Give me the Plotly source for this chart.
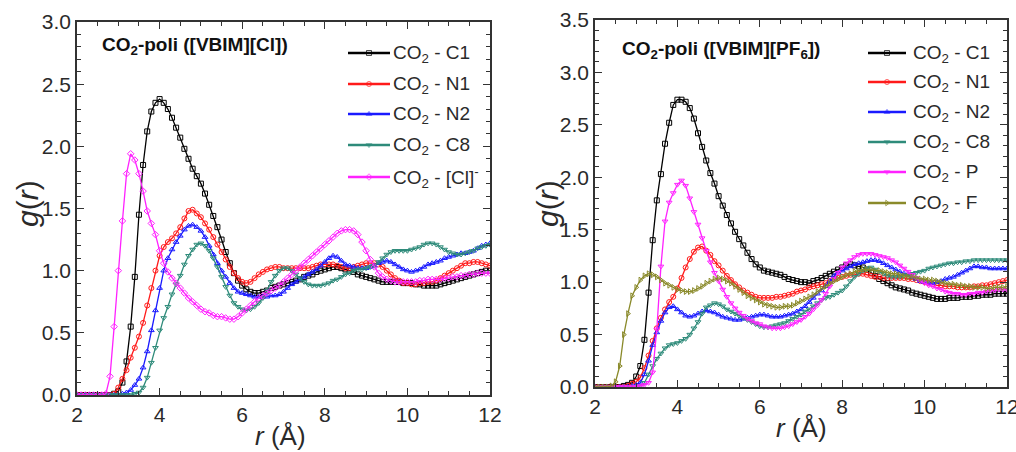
import plotly.graph_objects as go

# radial grid, 2.0 .. 12.0 Å in 0.1 Å steps
r = [round(2.0 + 0.1 * i, 1) for i in range(101)]

# ---- CO2-poli([VBIM][Cl]) ----
cl_c1 = [0, 0, 0, 0, 0, 0, 0, 0, 0, 0.01,
         0.03, 0.10, 0.27, 0.55, 0.95, 1.45, 1.85, 2.12, 2.28, 2.35,
         2.38, 2.35, 2.30, 2.23, 2.15, 2.07, 1.98, 1.90, 1.82, 1.76,
         1.70, 1.62, 1.53, 1.44, 1.35, 1.25, 1.15, 1.06, 0.98, 0.92,
         0.88, 0.85, 0.83, 0.82, 0.82, 0.83, 0.84, 0.86, 0.87, 0.88,
         0.89, 0.90, 0.91, 0.92, 0.93, 0.95, 0.96, 0.97, 0.99, 1.00,
         1.01, 1.02, 1.03, 1.03, 1.02, 1.01, 1.00, 0.99, 0.97, 0.96,
         0.95, 0.94, 0.93, 0.92, 0.91, 0.91, 0.91, 0.91, 0.91, 0.90,
         0.90, 0.90, 0.89, 0.89, 0.88, 0.88, 0.88, 0.88, 0.89, 0.90,
         0.91, 0.92, 0.93, 0.94, 0.95, 0.96, 0.97, 0.98, 0.99, 1.00,
         1.00]
cl_n1 = [0, 0, 0, 0, 0, 0, 0, 0, 0, 0.01,
         0.06, 0.13, 0.20, 0.30, 0.38, 0.47, 0.58, 0.72, 0.86, 1.00,
         1.12, 1.19, 1.23, 1.26, 1.30, 1.35, 1.42, 1.48, 1.49, 1.46,
         1.43, 1.38, 1.33, 1.27, 1.21, 1.15, 1.09, 1.03, 0.98, 0.94,
         0.91, 0.90, 0.91, 0.94, 0.97, 0.99, 1.01, 1.02, 1.03, 1.03,
         1.02, 1.02, 1.02, 1.02, 1.02, 1.02, 1.02, 1.03, 1.04, 1.05,
         1.05, 1.05, 1.05, 1.04, 1.03, 1.02, 1.02, 1.03, 1.04, 1.05,
         1.06, 1.06, 1.06, 1.05, 1.03, 1.00, 0.97, 0.94, 0.92, 0.90,
         0.90, 0.89, 0.89, 0.90, 0.90, 0.91, 0.91, 0.92, 0.94, 0.96,
         0.98, 1.00, 1.02, 1.04, 1.06, 1.06, 1.07, 1.07, 1.06, 1.05,
         1.04]
cl_n2 = [0, 0, 0, 0, 0, 0, 0, 0, 0, 0,
         0.00, 0.01, 0.02, 0.04, 0.08, 0.13, 0.22, 0.35, 0.52, 0.68,
         0.86, 1.00, 1.10, 1.17, 1.23, 1.28, 1.33, 1.36, 1.37, 1.35,
         1.32, 1.27, 1.20, 1.13, 1.06, 1.00, 0.95, 0.90, 0.86, 0.83,
         0.82, 0.81, 0.80, 0.79, 0.79, 0.79, 0.79, 0.80, 0.80, 0.81,
         0.83, 0.86, 0.89, 0.91, 0.93, 0.95, 0.97, 0.99, 1.01, 1.04,
         1.07, 1.10, 1.12, 1.11, 1.08, 1.05, 1.04, 1.03, 1.02, 1.02,
         1.02, 1.03, 1.04, 1.06, 1.07, 1.08, 1.07, 1.05, 1.03, 1.01,
         1.00, 0.99, 1.00, 1.01, 1.03, 1.05, 1.06, 1.07, 1.08, 1.10,
         1.11, 1.12, 1.13, 1.14, 1.14, 1.15, 1.16, 1.18, 1.20, 1.21,
         1.22]
cl_c8 = [0, 0, 0, 0, 0, 0, 0, 0, 0, 0,
         0, 0, 0, 0, 0.01, 0.02, 0.06, 0.14, 0.26, 0.38,
         0.52, 0.62, 0.71, 0.81, 0.89, 0.96, 1.05, 1.12, 1.17, 1.21,
         1.22, 1.20, 1.16, 1.10, 1.03, 0.95, 0.87, 0.80, 0.74, 0.71,
         0.69, 0.68, 0.69, 0.71, 0.74, 0.78, 0.84, 0.91, 0.96, 1.00,
         1.02, 1.02, 1.00, 0.97, 0.94, 0.91, 0.89, 0.88, 0.88, 0.88,
         0.89, 0.90, 0.92, 0.93, 0.95, 0.97, 0.98, 1.00, 1.01, 1.01,
         1.02, 1.03, 1.04, 1.07, 1.10, 1.13, 1.15, 1.16, 1.16, 1.16,
         1.16, 1.17, 1.18, 1.19, 1.21, 1.22, 1.22, 1.21, 1.19, 1.17,
         1.15, 1.14, 1.13, 1.13, 1.14, 1.15, 1.16, 1.18, 1.19, 1.20,
         1.21]
cl_cl = [0, 0, 0, 0, 0, 0, 0, 0.01, 0.15, 0.55,
         1.00, 1.40, 1.78, 1.94, 1.89, 1.78, 1.64, 1.48, 1.38, 1.29,
         1.16, 1.06, 0.99, 0.94, 0.90, 0.86, 0.82, 0.78, 0.75, 0.72,
         0.69, 0.67, 0.66, 0.64, 0.63, 0.63, 0.62, 0.61, 0.61, 0.63,
         0.66, 0.69, 0.72, 0.75, 0.78, 0.80, 0.82, 0.84, 0.86, 0.88,
         0.91, 0.94, 0.97, 1.00, 1.03, 1.06, 1.09, 1.12, 1.15, 1.18,
         1.21, 1.24, 1.27, 1.30, 1.32, 1.33, 1.33, 1.32, 1.29, 1.23,
         1.16, 1.09, 1.03, 0.98, 0.95, 0.93, 0.92, 0.91, 0.91, 0.91,
         0.91, 0.91, 0.91, 0.92, 0.92, 0.93, 0.93, 0.93, 0.93, 0.94,
         0.94, 0.95, 0.95, 0.96, 0.96, 0.97, 0.97, 0.98, 0.98, 0.98,
         0.98]

# ---- CO2-poli([VBIM][PF6]) ----
pf_c1 = [0, 0, 0, 0, 0, 0, 0, 0.01, 0.02, 0.04,
         0.10, 0.20, 0.45, 0.90, 1.40, 1.78, 2.03, 2.32, 2.52, 2.69,
         2.74, 2.74, 2.72, 2.66, 2.56, 2.42, 2.29, 2.16, 2.04, 1.94,
         1.82, 1.73, 1.64, 1.56, 1.48, 1.41, 1.35, 1.28, 1.22, 1.17,
         1.14, 1.11, 1.10, 1.09, 1.08, 1.07, 1.05, 1.03, 1.02, 1.01,
         1.00, 1.00, 0.99, 1.01, 1.02, 1.04, 1.06, 1.08, 1.10, 1.12,
         1.14, 1.16, 1.17, 1.16, 1.15, 1.14, 1.12, 1.09, 1.06, 1.03,
         1.01, 0.99, 0.97, 0.95, 0.94, 0.93, 0.92, 0.90, 0.89, 0.88,
         0.87, 0.86, 0.85, 0.84, 0.84, 0.84, 0.85, 0.85, 0.85, 0.86,
         0.86, 0.86, 0.87, 0.87, 0.88, 0.88, 0.88, 0.89, 0.89, 0.89,
         0.89]
pf_n1 = [0, 0, 0, 0, 0, 0, 0, 0, 0.01, 0.03,
         0.05, 0.09, 0.18, 0.30, 0.44, 0.56, 0.66, 0.74, 0.81, 0.86,
         0.94, 1.04, 1.14, 1.22, 1.29, 1.33, 1.34, 1.30, 1.26, 1.20,
         1.16, 1.11, 1.06, 1.02, 0.98, 0.95, 0.92, 0.90, 0.88, 0.86,
         0.85, 0.85, 0.85, 0.85, 0.86, 0.86, 0.87, 0.88, 0.89, 0.91,
         0.92, 0.93, 0.95, 0.96, 0.97, 0.98, 0.99, 1.01, 1.03, 1.04,
         1.05, 1.06, 1.07, 1.07, 1.08, 1.08, 1.07, 1.06, 1.05, 1.05,
         1.04, 1.04, 1.04, 1.04, 1.04, 1.04, 1.03, 1.03, 1.02, 1.01,
         1.00, 0.99, 0.98, 0.97, 0.97, 0.96, 0.96, 0.96, 0.95, 0.95,
         0.95, 0.95, 0.96, 0.96, 0.97, 0.97, 0.98, 0.99, 1.00, 1.01,
         1.02]
pf_n2 = [0, 0, 0, 0, 0, 0, 0, 0, 0, 0.01,
         0.02, 0.04, 0.12, 0.25, 0.40, 0.52, 0.63, 0.71, 0.76, 0.77,
         0.74, 0.71, 0.68, 0.67, 0.68, 0.70, 0.72, 0.73, 0.72, 0.71,
         0.69, 0.67, 0.66, 0.65, 0.64, 0.64, 0.65, 0.66, 0.67, 0.68,
         0.69, 0.69, 0.68, 0.67, 0.67, 0.67, 0.68, 0.69, 0.70, 0.72,
         0.74, 0.77, 0.81, 0.85, 0.89, 0.92, 0.96, 1.01, 1.06, 1.09,
         1.11, 1.13, 1.15, 1.17, 1.18, 1.19, 1.20, 1.21, 1.21, 1.20,
         1.18, 1.16, 1.14, 1.12, 1.10, 1.08, 1.07, 1.05, 1.03, 1.01,
         1.00, 0.99, 0.99, 1.00, 1.01, 1.03, 1.04, 1.05, 1.07, 1.09,
         1.11, 1.13, 1.15, 1.15, 1.14, 1.14, 1.13, 1.13, 1.13, 1.13,
         1.13]
pf_c8 = [0, 0, 0, 0, 0, 0, 0, 0, 0, 0,
         0, 0.01, 0.04, 0.12, 0.20, 0.27, 0.32, 0.37, 0.40, 0.41,
         0.42, 0.44, 0.46, 0.50, 0.56, 0.62, 0.70, 0.76, 0.78, 0.80,
         0.79, 0.77, 0.74, 0.72, 0.70, 0.68, 0.66, 0.64, 0.62, 0.60,
         0.58, 0.57, 0.57, 0.58, 0.59, 0.60, 0.61, 0.63, 0.65, 0.67,
         0.69, 0.72, 0.74, 0.77, 0.80, 0.83, 0.85, 0.86, 0.88, 0.90,
         0.92, 0.96, 1.01, 1.05, 1.08, 1.11, 1.13, 1.14, 1.12, 1.10,
         1.08, 1.06, 1.05, 1.05, 1.05, 1.06, 1.07, 1.08, 1.09, 1.10,
         1.11, 1.13, 1.14, 1.15, 1.16, 1.17, 1.18, 1.18, 1.19, 1.19,
         1.20, 1.20, 1.21, 1.21, 1.21, 1.21, 1.21, 1.21, 1.21, 1.21,
         1.21]
pf_p = [0, 0, 0, 0, 0, 0, 0, 0, 0, 0,
        0.00, 0.01, 0.02, 0.04, 0.14, 0.55, 1.15, 1.58, 1.76, 1.85,
        1.93, 1.97, 1.92, 1.80, 1.67, 1.55, 1.42, 1.30, 1.19, 1.09,
        1.01, 0.93, 0.86, 0.80, 0.75, 0.71, 0.68, 0.65, 0.63, 0.61,
        0.60, 0.58, 0.57, 0.56, 0.56, 0.56, 0.57, 0.58, 0.60, 0.62,
        0.64, 0.67, 0.70, 0.74, 0.78, 0.83, 0.89, 0.96, 1.03, 1.09,
        1.14, 1.18, 1.21, 1.24, 1.26, 1.27, 1.27, 1.27, 1.26, 1.25,
        1.24, 1.23, 1.21, 1.19, 1.16, 1.13, 1.10, 1.07, 1.04, 1.01,
        0.99, 0.97, 0.96, 0.94, 0.93, 0.91, 0.90, 0.89, 0.89, 0.88,
        0.88, 0.89, 0.89, 0.90, 0.90, 0.91, 0.92, 0.92, 0.93, 0.93,
        0.93]
pf_f = [0, 0, 0, 0, 0.01, 0.05, 0.20, 0.50, 0.70, 0.87,
        0.95, 1.02, 1.06, 1.08, 1.07, 1.05, 1.02, 0.99, 0.97, 0.95,
        0.93, 0.92, 0.91, 0.91, 0.92, 0.94, 0.96, 0.99, 1.01, 1.03,
        1.04, 1.03, 1.01, 0.99, 0.96, 0.93, 0.90, 0.87, 0.85, 0.83,
        0.81, 0.79, 0.78, 0.77, 0.76, 0.76, 0.77, 0.77, 0.78, 0.80,
        0.82, 0.84, 0.86, 0.88, 0.91, 0.94, 0.96, 0.99, 1.01, 1.03,
        1.05, 1.07, 1.08, 1.10, 1.11, 1.12, 1.12, 1.12, 1.11, 1.11,
        1.10, 1.09, 1.08, 1.08, 1.07, 1.06, 1.05, 1.05, 1.04, 1.03,
        1.03, 1.02, 1.02, 1.01, 1.00, 0.99, 0.98, 0.98, 0.97, 0.97,
        0.96, 0.96, 0.95, 0.95, 0.95, 0.94, 0.94, 0.95, 0.95, 0.95,
        0.96]

left_names = ["CO<sub>2</sub> - C1", "CO<sub>2</sub> - N1", "CO<sub>2</sub> - N2",
              "CO<sub>2</sub> - C8", "CO<sub>2</sub> - [Cl]<sup>-</sup>"]
right_names = ["CO<sub>2</sub> - C1", "CO<sub>2</sub> - N1", "CO<sub>2</sub> - N2",
               "CO<sub>2</sub> - C8", "CO<sub>2</sub> - P", "CO<sub>2</sub> - F"]

left_series = [cl_c1, cl_n1, cl_n2, cl_c8, cl_cl]
right_series = [pf_c1, pf_n1, pf_n2, pf_c8, pf_p, pf_f]

colors = ["#000000", "#ff1a1a", "#1a1aff", "#2e8b7a", "#ff22ff", "#8a8a2a"]
symbols_left = ["square-open", "circle-open", "triangle-up-open",
                "triangle-down-open", "diamond-open"]
symbols_right = ["square-open", "circle-open", "triangle-up-open",
                 "triangle-down-open", "triangle-down-open", "triangle-right-open"]

FONT = "Arial, Liberation Sans, sans-serif"
TXT = "#2a2a2a"
W, H = 1016, 452


def px_x(p):
    return p / W


def px_y(p):
    return (H - p) / H


fig = go.Figure()

for name, ys, col, sym in zip(left_names, left_series, colors, symbols_left):
    fig.add_trace(go.Scatter(
        x=r, y=ys, name=name, mode="lines+markers",
        line=dict(color=col, width=1.3),
        marker=dict(symbol=sym, size=5, color=col, line=dict(width=1, color=col)),
        xaxis="x", yaxis="y", showlegend=False))

for name, ys, col, sym in zip(right_names, right_series, colors, symbols_right):
    fig.add_trace(go.Scatter(
        x=r, y=ys, name=name, mode="lines+markers",
        line=dict(color=col, width=1.3),
        marker=dict(symbol=sym, size=5, color=col, line=dict(width=1, color=col)),
        xaxis="x2", yaxis="y2", showlegend=False))

# legend keys: drawn on a hidden full-figure pixel axis
key_rows_left = [53, 84, 114, 145, 177]
key_rows_right = [53, 82, 112, 142, 172, 203]
ann = []
for names, rows, syms, (lx0, lx1, tx) in (
        (left_names, key_rows_left, symbols_left, (348, 390, 391)),
        (right_names, key_rows_right, symbols_right, (868, 906, 911))):
    for name, yk, col, sym in zip(names, rows, colors, syms):
        fig.add_trace(go.Scatter(
            x=[lx0, (lx0 + lx1) / 2, lx1], y=[yk, yk, yk], mode="lines+markers",
            line=dict(color=col, width=2.4),
            marker=dict(symbol=sym, size=[0, 5, 0], color=col,
                        line=dict(width=1, color=col)),
            xaxis="x3", yaxis="y3", showlegend=False, hoverinfo="skip"))
        ann.append(dict(text=name, x=px_x(tx), y=px_y(yk + 1), xref="paper", yref="paper",
                        xanchor="left", yanchor="middle", showarrow=False,
                        font=dict(family=FONT, size=19, color=TXT)))

axis_common = dict(
    showline=True, linecolor="#333333", linewidth=1.5, mirror="ticks",
    ticks="inside", ticklen=7, tickwidth=1.2, tickcolor="#333333",
    showgrid=False, zeroline=False, automargin=False, ticklabeloverflow="allow",
    tickfont=dict(family=FONT, size=21, color=TXT),
)

xaxis = dict(axis_common, range=[2, 12], dtick=2, tick0=2,
             minor=dict(dtick=0.5, ticks="inside", ticklen=4, tickcolor="#333333"))

fig.update_layout(
    width=W, height=H,
    margin=dict(l=0, r=0, t=0, b=0, autoexpand=False),
    paper_bgcolor="white", plot_bgcolor="rgba(0,0,0,0)",
    showlegend=False,
    xaxis=dict(xaxis, domain=[px_x(77), px_x(490)], anchor="y"),
    yaxis=dict(axis_common, range=[0, 3.0], dtick=0.5, tickformat=".1f",
               domain=[px_y(395), px_y(22)], anchor="x",
               minor=dict(dtick=0.1, ticks="inside", ticklen=4, tickcolor="#333333")),
    xaxis2=dict(xaxis, domain=[px_x(595), px_x(1007)], anchor="y2"),
    yaxis2=dict(axis_common, range=[0, 3.5], dtick=0.5, tickformat=".1f",
                domain=[px_y(387), px_y(20)], anchor="x2",
                minor=dict(dtick=0.1, ticks="inside", ticklen=4, tickcolor="#333333")),
    xaxis3=dict(domain=[0, 1], range=[0, W], visible=False, fixedrange=True,
                anchor="y3", automargin=False),
    yaxis3=dict(domain=[0, 1], range=[H, 0], visible=False, fixedrange=True,
                anchor="x3", automargin=False),
)

# panel labels and axis titles
ann.append(dict(text="<b>CO<sub>2</sub>-poli ([VBIM][Cl])</b>", x=px_x(100), y=px_y(46),
                xref="paper", yref="paper", xanchor="left", yanchor="middle",
                showarrow=False, font=dict(family=FONT, size=19, color="#111111")))
ann.append(dict(text="<b>CO<sub>2</sub>-poli ([VBIM][PF<sub>6</sub>])</b>", x=px_x(620),
                y=px_y(50), xref="paper", yref="paper", xanchor="left", yanchor="middle",
                showarrow=False, font=dict(family=FONT, size=19, color="#111111")))
for cx, cy in ((280, 436), (801, 428)):
    ann.append(dict(text="<i>r</i> (Å)", x=px_x(cx), y=px_y(cy), xref="paper",
                    yref="paper", xanchor="center", yanchor="middle", showarrow=False,
                    font=dict(family=FONT, size=26, color=TXT)))
for cx, cy in ((27, 204), (547, 204)):
    ann.append(dict(text="<i>g</i>(<i>r</i>)", x=px_x(cx), y=px_y(cy), xref="paper",
                    yref="paper", xanchor="center", yanchor="middle", showarrow=False,
                    textangle=-90, font=dict(family=FONT, size=30, color=TXT)))
fig.update_layout(annotations=ann)

fig.write_html("out.html")
